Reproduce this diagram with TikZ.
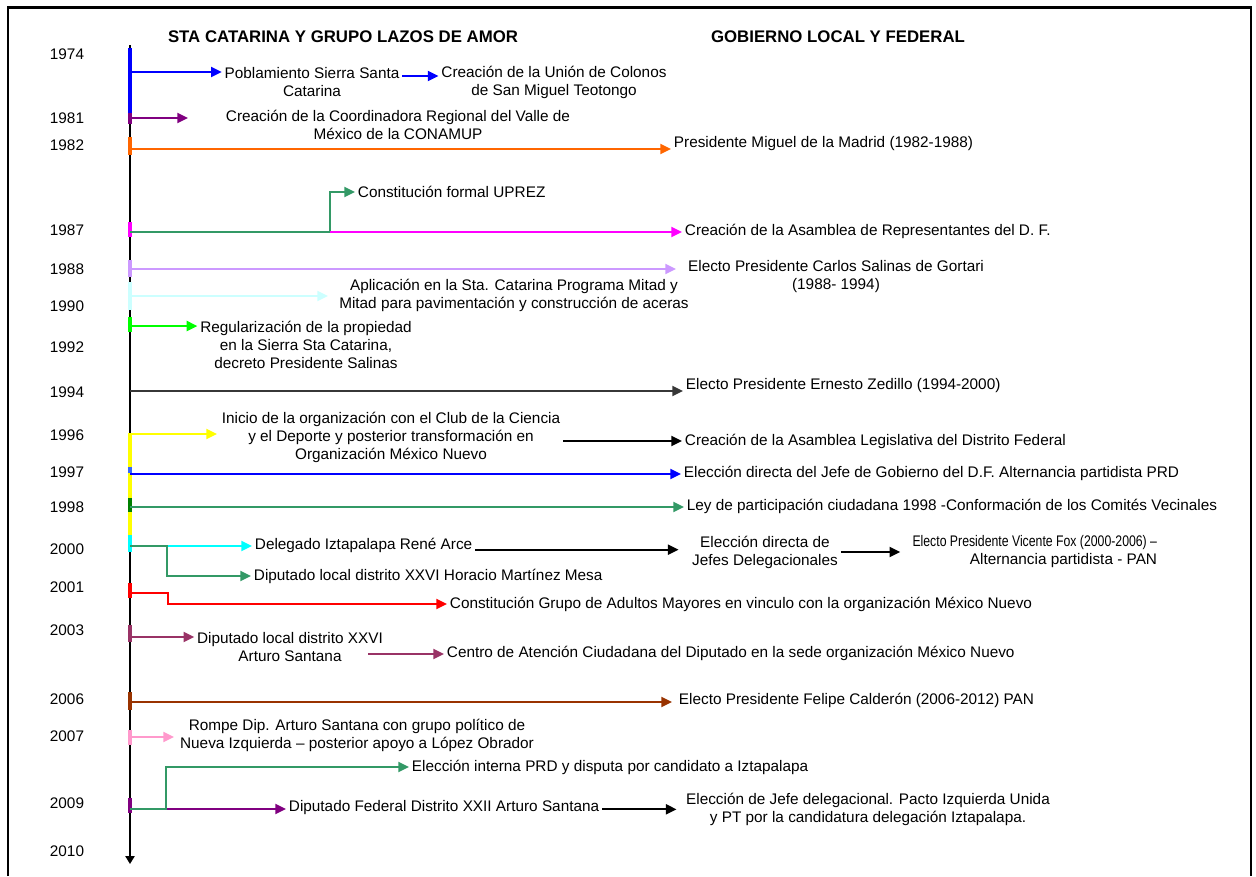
\documentclass[tikz,border=0pt]{standalone}
\usepackage{fontspec}
\setmainfont{Liberation Sans}
\usepackage{graphicx}
\usetikzlibrary{arrows.meta}

\definecolor{cBlue}{RGB}{0,0,255}
\definecolor{cAxBlue}{RGB}{51,102,255}
\definecolor{cPurple}{RGB}{128,0,128}
\definecolor{cOrange}{RGB}{255,102,0}
\definecolor{cSea}{RGB}{51,153,102}
\definecolor{cMag}{RGB}{255,0,255}
\definecolor{cLav}{RGB}{204,153,255}
\definecolor{cLCyan}{RGB}{204,255,255}
\definecolor{cLime}{RGB}{0,255,0}
\definecolor{cYellow}{RGB}{255,255,0}
\definecolor{cDkGreen}{RGB}{0,128,0}
\definecolor{cCyan}{RGB}{0,255,255}
\definecolor{cRed}{RGB}{255,0,0}
\definecolor{cPlum}{RGB}{153,51,102}
\definecolor{cBrown}{RGB}{153,51,0}
\definecolor{cPink}{RGB}{255,153,204}
\definecolor{cGray}{RGB}{55,55,55}

\tikzset{
  txt/.style={font=\fontsize{11.5}{13.5}\selectfont,align=center,inner sep=2pt},
  lft/.style={txt,anchor=west},
  yr/.style={font=\fontsize{11.5}{13.5}\selectfont,inner sep=1pt},
  ttl/.style={font=\fontsize{12.6}{15}\selectfont\bfseries,inner sep=1pt},
  arr/.style={line width=1.5pt,-{Triangle[length=8pt,width=7.5pt]}},
  seg/.style={line width=2.6pt},
}

\begin{document}
\begin{tikzpicture}[x=0.75pt,y=0.75pt,yscale=-1,xscale=1]
\useasboundingbox (0,0) rectangle (1256,876);

%Frame
\draw[line width=2.2pt] (8,876) -- (8,7.5) -- (1252,7.5);
\draw[line width=0.8pt] (1251,7.5) -- (1251,876);

% Titles
\node[ttl] (tLeft) at (343,37) {STA CATARINA Y GRUPO LAZOS DE AMOR};
\node[ttl] (tRight) at (838,37) {GOBIERNO LOCAL Y FEDERAL};

% Years
\node[yr] (y74) at (67,54) {1974};
\node[yr] (y81) at (67,118) {1981};
\node[yr] (y82) at (67,145) {1982};
\node[yr] (y87) at (67,230) {1987};
\node[yr] (y88) at (67,269) {1988};
\node[yr] (y90) at (67,306) {1990};
\node[yr] (y92) at (67,347) {1992};
\node[yr] (y94) at (67,392) {1994};
\node[yr] (y96) at (67,435) {1996};
\node[yr] (y97) at (67,472) {1997};
\node[yr] (y98) at (67,507) {1998};
\node[yr] (y00) at (67,549) {2000};
\node[yr] (y01) at (67,587) {2001};
\node[yr] (y03) at (67,630) {2003};
\node[yr] (y06) at (67,699) {2006};
\node[yr] (y07) at (67,736) {2007};
\node[yr] (y09) at (67,803) {2009};
\node[yr] (y10) at (67,851) {2010};

% Axis points
\coordinate (top) at (130,45);
\coordinate (bot) at (130,864);
\coordinate (p74) at (130,72);
\coordinate (p81) at (130,118);
\coordinate (p82) at (130,149);
\coordinate (p87) at (130,232);
\coordinate (k87) at (330,232);
\coordinate (p88) at (130,269);
\coordinate (p90) at (130,296);
\coordinate (p92) at (130,326);
\coordinate (p94) at (130,391);
\coordinate (p96) at (130,434);
\coordinate (p97) at (130,474);
\coordinate (p98) at (130,507);
\coordinate (p00) at (130,546);
\coordinate (k00) at (167,546);
\coordinate (p01) at (130,593);
\coordinate (k01) at (168,593);
\coordinate (p03) at (130,637);
\coordinate (p06) at (130,702);
\coordinate (p07) at (130,737);
\coordinate (p09) at (130,809);
\coordinate (k09) at (166,809);

% free arrow ends
\coordinate (e81) at (188,118);
\coordinate (e88) at (676,269);
\coordinate (e90) at (328,296);
\coordinate (e96) at (217,434);
\coordinate (e07) at (174,737);
\coordinate (s03) at (368,654);

% Text Node
\node[txt] (poblam) at (312,82) {Poblamiento Sierra Santa\\Catarina};
\node[txt] (union) at (554,82) {Creación de la Unión de Colonos\\de San Miguel Teotongo};
\node[txt] (conamup) at (398,125) {Creación de la Coordinadora Regional del Valle de\\México de la CONAMUP};
\node[lft] (madrid) at (671,144) {Presidente Miguel de la Madrid (1982-1988)};
\node[lft] (uprez) at (355,192) {Constitución formal UPREZ};
\node[lft] (asamrep) at (682,231) {Creación de la Asamblea de Representantes del D. F.};
\node[txt] (salinas) at (836,277) {Electo Presidente Carlos Salinas de Gortari\\(1988- 1994)};
\node[txt] (mitad) at (514,295) {Aplicación en la Sta. Catarina Programa Mitad y\\Mitad para pavimentación y construcción de aceras};
\node[txt] (regul) at (306,345) {Regularización de la propiedad\\en la Sierra Sta Catarina,\\decreto Presidente Salinas};
\node[lft] (zedillo) at (683,386) {Electo Presidente Ernesto Zedillo (1994-2000)};
\node[txt] (club) at (391,437) {Inicio de la organización con el Club de la Ciencia\\y el Deporte y posterior transformación en\\Organización México Nuevo};
\node[lft] (asamleg) at (682,441) {Creación de la Asamblea Legislativa del Distrito Federal};
\node[lft] (jefegob) at (681,473) {Elección directa del Jefe de Gobierno del D.F. Alternancia partidista PRD};
\node[lft] (ley) at (684,506) {Ley de participación ciudadana 1998 -Conformación de los Comités Vecinales};
\node[lft] (arce) at (252,545) {Delegado Iztapalapa René Arce};
\node[lft] (horacio) at (251,576) {Diputado local distrito XXVI Horacio Martínez Mesa};
\node[txt] (jefesdel) at (765,552) {Elección directa de\\Jefes Delegacionales};
\node[txt,align=right,anchor=east] (fox) at (1160,552) {\scalebox{0.8}[1]{Electo Presidente Vicente Fox (2000-2006) –}\\Alternancia partidista - PAN};
\node[lft] (adultos) at (447,604) {Constitución Grupo de Adultos Mayores en vinculo con la organización México Nuevo};
\node[txt] (santana) at (290,647) {Diputado local distrito XXVI\\Arturo Santana};
\node[lft] (centro) at (444,653) {Centro de Atención Ciudadana del Diputado en la sede organización México Nuevo};
\node[lft] (calderon) at (676,700) {Electo Presidente Felipe Calderón (2006-2012) PAN};
\node[txt] (rompe) at (357,735) {Rompe Dip. Arturo Santana con grupo político de\\Nueva Izquierda – posterior apoyo a López Obrador};
\node[lft] (interna) at (409,767) {Elección interna PRD y disputa por candidato a Iztapalapa};
\node[lft] (federal) at (286,808) {Diputado Federal Distrito XXII Arturo Santana};
\node[txt] (pacto) at (868,809) {Elección de Jefe delegacional. Pacto Izquierda Unida\\y PT por la candidatura delegación Iztapalapa.};

%Axis
\draw[line width=1.1pt,-{Triangle[length=6pt,width=7pt]}] (top) -- (bot);
\draw[seg,cBlue] (130,48) -- (130,113);
\draw[seg,cPurple] (130,113) -- (130,124);
\draw[seg,cOrange] (130,137) -- (130,155);
\draw[seg,cMag] (130,222) -- (130,237);
\draw[seg,cLav] (130,260) -- (130,277);
\draw[seg,cLCyan] (130,282) -- (130,310);
\draw[seg,cLime] (130,317) -- (130,332);
\draw[seg,cYellow] (130,433) -- (130,467);
\draw[seg,cAxBlue] (130,467) -- (130,473);
\draw[seg,cYellow] (130,473) -- (130,498);
\draw[seg,cDkGreen] (130,498) -- (130,512);
\draw[seg,cYellow] (130,512) -- (130,535);
\draw[seg,cCyan] (130,535) -- (130,552);
\draw[seg,cRed] (130,583) -- (130,598);
\draw[seg,cPlum] (130,625) -- (130,642);
\draw[seg,cBrown] (130,692) -- (130,710);
\draw[seg,cPink] (130,730) -- (130,745);
\draw[seg,cPurple] (130,798) -- (130,813);

%Straight Lines
\draw[arr,cBlue] (p74) -- (p74 -| poblam.west);
\draw[arr,cBlue] ([yshift=-4.5pt]poblam.east) -- ([yshift=-4.5pt]union.west);
\draw[arr,cPurple] (p81) -- (e81);
\draw[arr,cOrange] (p82) -- (p82 -| madrid.west);
\draw[arr,cSea] (p87) -- (k87) |- (uprez.west);
\draw[arr,cMag] (k87) -- (k87 -| asamrep.west);
\draw[line width=1.5pt,cSea] (p87) -- (k87);
\draw[arr,cLav] (p88) -- (e88);
\draw[arr,cLCyan] (p90) -- (e90);
\draw[arr,cLime] (p92) -- (p92 -| regul.west);
\draw[arr,cGray] (p94) -- (p94 -| zedillo.west);
\draw[arr,cYellow] (p96) -- (e96);
\draw[arr,black] (club.east |- asamleg.west) -- (asamleg.west);
\draw[arr,cBlue] (p97) -- (p97 -| jefegob.west);
\draw[arr,cSea] (p98) -- (p98 -| ley.west);
\draw[arr,cCyan] (p00) -- (p00 -| arce.west);
\draw[arr,cSea] (p00) -- (k00) |- (horacio.west);
\draw[arr,black,shorten >=8pt] ([yshift=3.5pt]arce.east) -- ([yshift=3.5pt]arce.east -| jefesdel.west);
\draw[arr,black,shorten >=7pt] (jefesdel.east) -- (jefesdel.east -| fox.west);
\draw[arr,cRed] (p01) -- (k01) |- (adultos.west);
\draw[arr,cPlum] (p03) -- (p03 -| santana.west);
\draw[arr,cPlum] (s03) -- (s03 -| centro.west);
\draw[arr,cBrown,shorten >=3pt] (p06) -- (p06 -| calderon.west);
\draw[arr,cPink] (p07) -- (e07);
\draw[arr,cPurple] (p09) -- (p09 -| federal.west);
\draw[arr,cSea] (p09) -- (k09) |- (interna.west);
\draw[arr,black,shorten >=5pt] ([yshift=1pt]federal.east) -- ([yshift=1pt]federal.east -| pacto.west);

\end{tikzpicture}
\end{document}
